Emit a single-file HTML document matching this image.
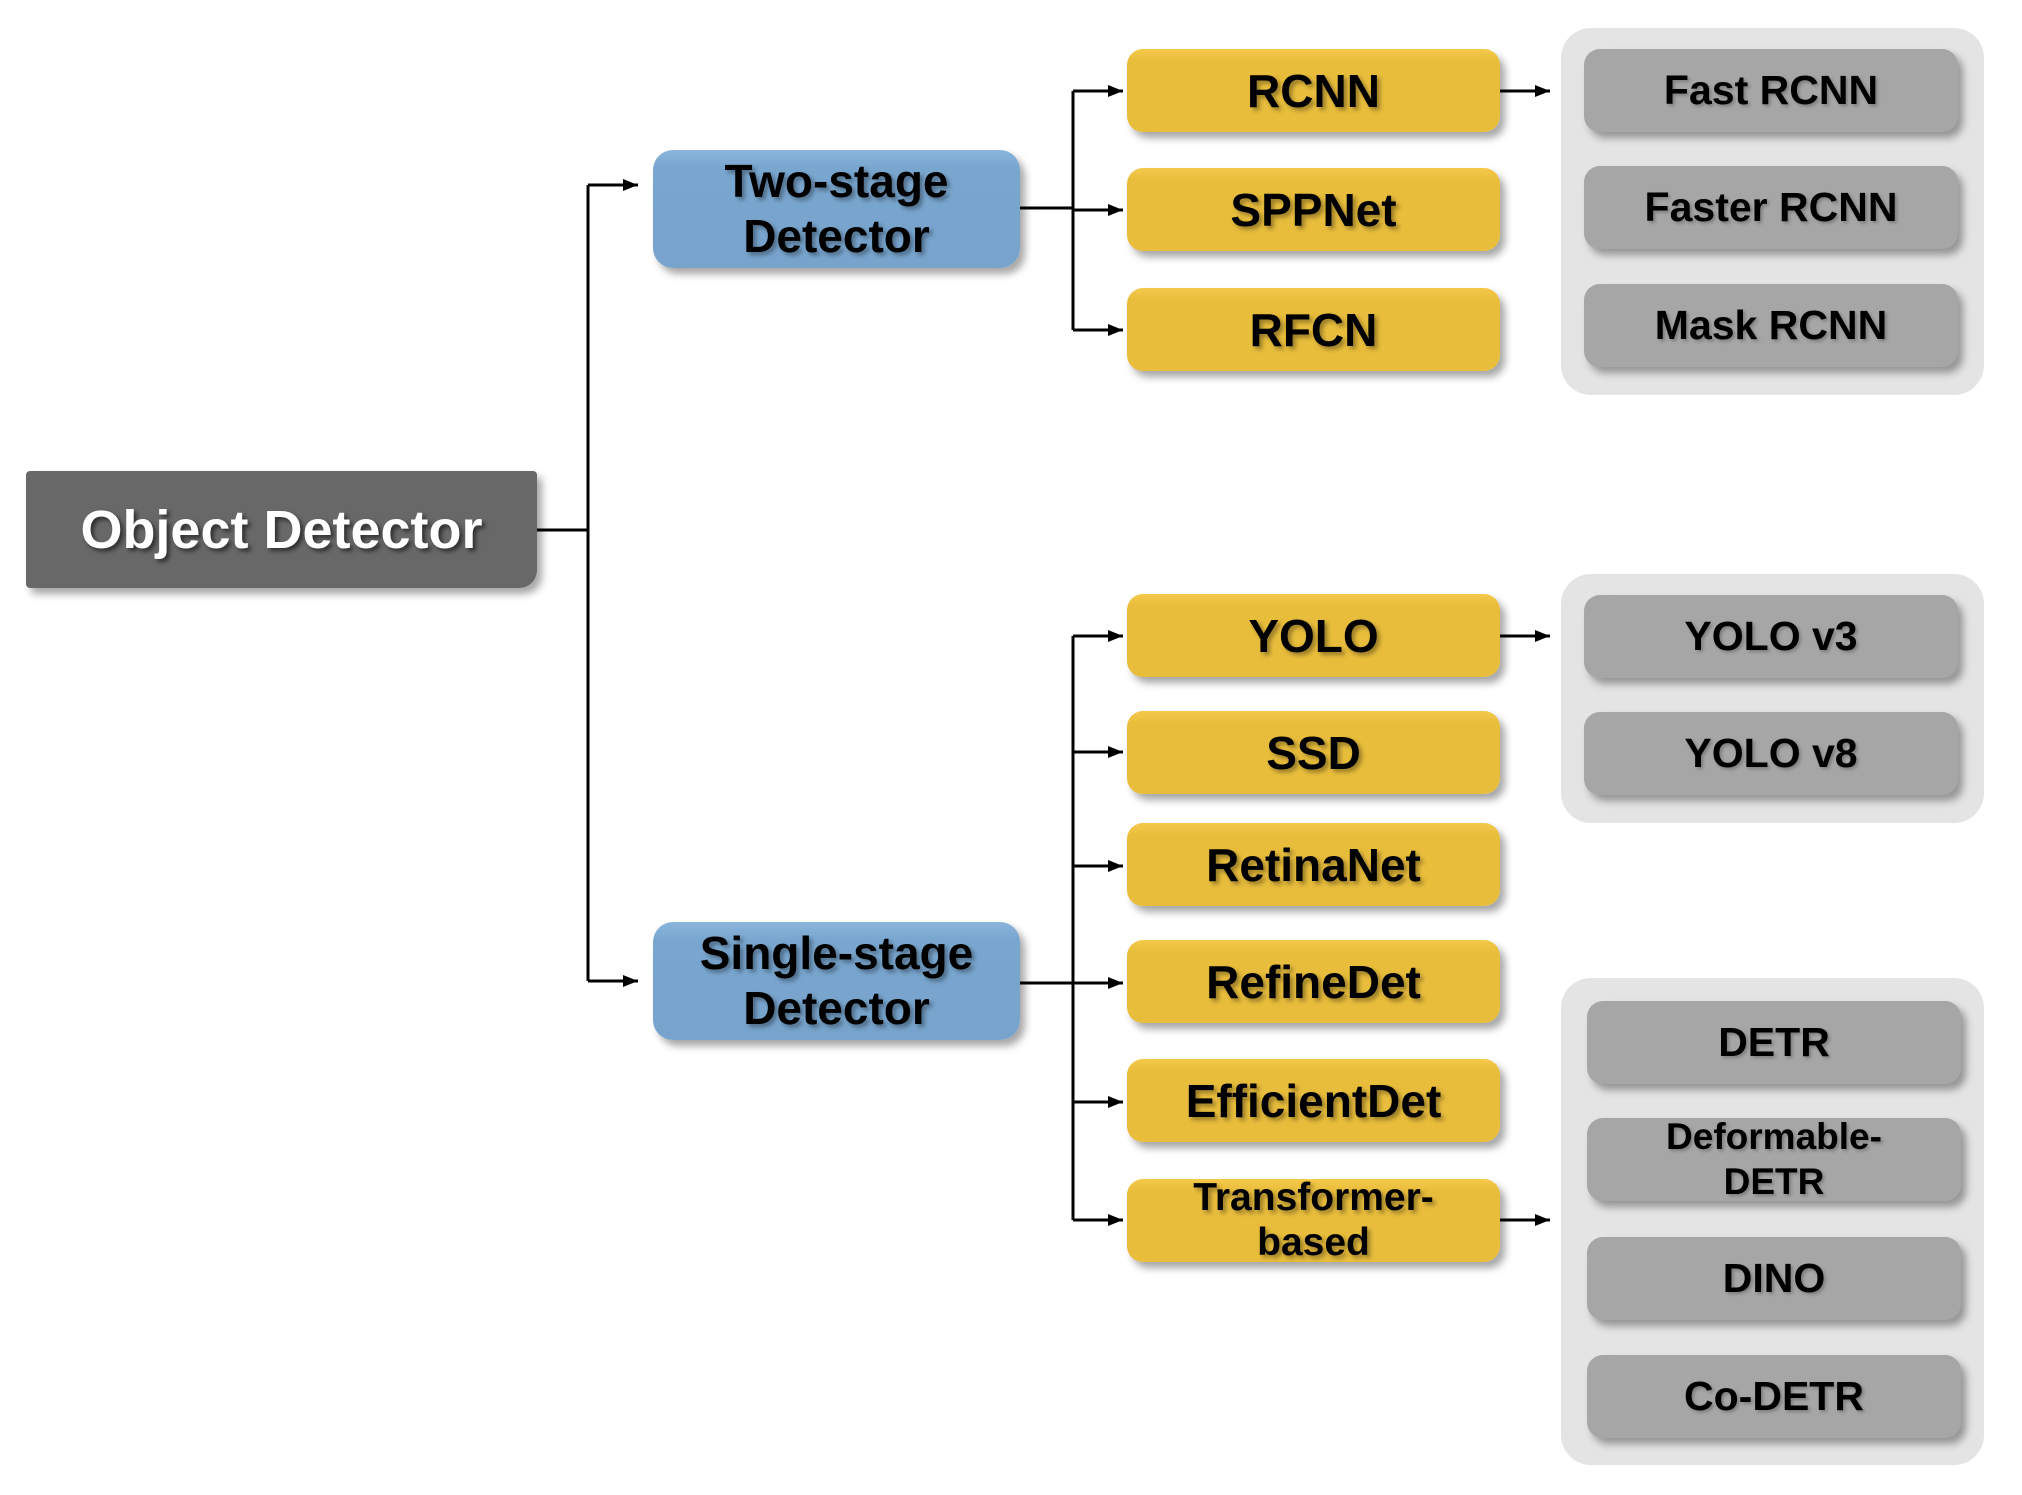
<!DOCTYPE html>
<html><head><meta charset="utf-8"><style>
html,body{margin:0;padding:0;background:#fff;}
body{width:2022px;height:1495px;position:relative;overflow:hidden;font-family:"Liberation Sans",Arial,sans-serif;font-weight:bold;}
.b{position:absolute;display:flex;align-items:center;justify-content:center;text-align:center;box-sizing:border-box;line-height:1.0;}
.y{background:linear-gradient(#f5c94a,#e8bd3c 15%,#e8bd3c);border-radius:16px;box-shadow:5px 6px 8px rgba(0,0,0,0.35);left:1127px;width:373px;height:83px;font-size:46px;color:#000;text-shadow:3px 3px 4px rgba(0,0,0,0.35);}
.g{background:#a6a6a6;border-radius:16px;box-shadow:5px 6px 8px rgba(0,0,0,0.35);width:374px;height:83px;font-size:41px;color:#000;text-shadow:2px 2px 3px rgba(0,0,0,0.25);}
.bl{background:linear-gradient(#8ab5dc,#79a6cf 15%,#77a3cc);border-radius:20px;box-shadow:5px 6px 8px rgba(0,0,0,0.35);left:653px;width:367px;height:118px;font-size:46px;color:#000;text-shadow:3px 3px 4px rgba(0,0,0,0.35);line-height:1.2;}
.p{position:absolute;background:#e4e4e4;border-radius:30px;left:1561px;width:423px;}
</style></head><body>
<svg width="2022" height="1495" style="position:absolute;left:0;top:0">
<defs><marker id="a" markerWidth="5" markerHeight="4" refX="5" refY="2" orient="auto" markerUnits="strokeWidth"><path d="M0,0 L5,2 L0,4 z" fill="#000"/></marker></defs>
<g stroke="#000" stroke-width="3" fill="none">
<path d="M537,530 H588"/>
<path d="M588,185 V981"/>
<path d="M588,185 H638" marker-end="url(#a)"/>
<path d="M588,981 H638" marker-end="url(#a)"/>
<path d="M1020,208 H1073"/>
<path d="M1073,91 V330"/>
<path d="M1073,91 H1123" marker-end="url(#a)"/>
<path d="M1073,210 H1123" marker-end="url(#a)"/>
<path d="M1073,330 H1123" marker-end="url(#a)"/>
<path d="M1020,983 H1073"/>
<path d="M1073,636 V1220"/>
<path d="M1073,636 H1123" marker-end="url(#a)"/>
<path d="M1073,752 H1123" marker-end="url(#a)"/>
<path d="M1073,866 H1123" marker-end="url(#a)"/>
<path d="M1073,983 H1123" marker-end="url(#a)"/>
<path d="M1073,1102 H1123" marker-end="url(#a)"/>
<path d="M1073,1220 H1123" marker-end="url(#a)"/>
<path d="M1500,91 H1550" marker-end="url(#a)"/>
<path d="M1500,636 H1550" marker-end="url(#a)"/>
<path d="M1500,1220 H1550" marker-end="url(#a)"/>
</g></svg>

<div class="b" style="left:26px;top:471px;width:511px;height:117px;background:#686868;border-radius:4px 4px 18px 4px;box-shadow:5px 6px 8px rgba(0,0,0,0.35);color:#fff;font-size:54px;text-shadow:3px 3px 4px rgba(0,0,0,0.55);">Object Detector</div>

<div class="b bl" style="top:150px;">Two-stage<br>Detector</div>
<div class="b bl" style="top:922px;">Single-stage<br>Detector</div>

<div class="b y" style="top:49px;">RCNN</div>
<div class="b y" style="top:168px;">SPPNet</div>
<div class="b y" style="top:288px;">RFCN</div>
<div class="b y" style="top:594px;">YOLO</div>
<div class="b y" style="top:711px;">SSD</div>
<div class="b y" style="top:823px;">RetinaNet</div>
<div class="b y" style="top:940px;">RefineDet</div>
<div class="b y" style="top:1059px;">EfficientDet</div>
<div class="b y" style="top:1179px;font-size:39px;line-height:1.15;">Transformer-<br>based</div>

<div class="p" style="top:28px;height:367px;"></div>
<div class="p" style="top:574px;height:249px;"></div>
<div class="p" style="top:978px;height:487px;"></div>

<div class="b g" style="left:1584px;top:49px;">Fast RCNN</div>
<div class="b g" style="left:1584px;top:166px;">Faster RCNN</div>
<div class="b g" style="left:1584px;top:284px;">Mask RCNN</div>
<div class="b g" style="left:1584px;top:595px;">YOLO v3</div>
<div class="b g" style="left:1584px;top:712px;">YOLO v8</div>
<div class="b g" style="left:1587px;top:1001px;">DETR</div>
<div class="b g" style="left:1587px;top:1118px;font-size:37px;line-height:1.2;">Deformable-<br>DETR</div>
<div class="b g" style="left:1587px;top:1237px;">DINO</div>
<div class="b g" style="left:1587px;top:1355px;">Co-DETR</div>
</body></html>
